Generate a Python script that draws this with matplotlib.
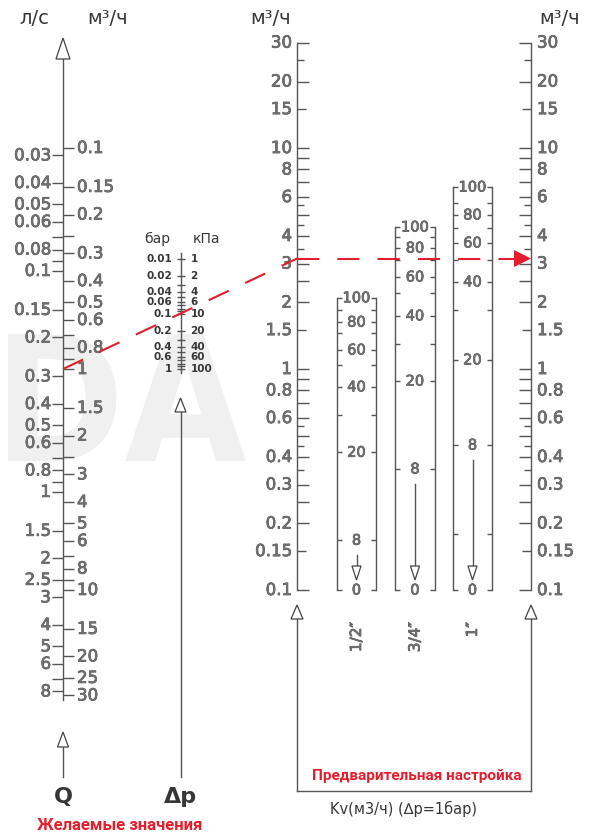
import matplotlib
matplotlib.use('Agg')
import matplotlib.pyplot as plt
import numpy as np
from matplotlib.patches import Polygon, PathPatch
from matplotlib.textpath import TextPath
from matplotlib.font_manager import FontProperties
from matplotlib.transforms import Affine2D
import matplotlib.patheffects as pe

plt.rcParams['lines.scale_dashes'] = False
plt.rcParams['font.family'] = ['DejaVu Sans']

W, H = 598, 836

# ---------------- data ----------------
Q_M3H_LABELS = [0.1, 0.15, 0.2, 0.3, 0.4, 0.5, 0.6, 0.8, 1, 1.5, 2, 3, 4, 5, 6, 8, 10, 15, 20, 25, 30]
Q_M3H_MINOR = [0.25, 0.7, 0.9, 2.5, 7, 9]
Q_LS_LABELS = [0.03, 0.04, 0.05, 0.06, 0.08, 0.1, 0.15, 0.2, 0.3, 0.4, 0.5, 0.6, 0.8, 1, 1.5, 2, 2.5, 3, 4, 5, 6, 8]
Q_LS_MINOR = [0.07, 0.09, 0.7, 0.9, 7]
LS_TO_M3H = 3.6

DP_TICKS = [0.01, 0.02, 0.03, 0.04, 0.05, 0.06, 0.07, 0.08, 0.09,
            0.1, 0.2, 0.3, 0.4, 0.5, 0.6, 0.7, 0.8, 0.9, 1]
DP_BAR_LABELS = [0.01, 0.02, 0.04, 0.06, 0.1, 0.2, 0.4, 0.6, 1]
DP_KPA_LABELS = ['1', '2', '4', '6', '10', '20', '40', '60', '100']

KV_LABELS = [0.1, 0.15, 0.2, 0.3, 0.4, 0.6, 0.8, 1, 1.5, 2, 3, 4, 6, 8, 10, 15, 20, 30]
KV_LONG = [0.1, 0.2, 0.25, 0.3, 0.4, 0.5, 0.6, 0.7, 0.8, 0.9, 1, 2, 2.5, 3, 4, 5, 6, 7, 8, 9, 10, 20, 30]
KV_MID = [0.15, 1.5, 15]
KV_SHORT = [0.35, 0.45, 0.55, 3.5, 4.5, 5.5, 25]

SIZES = ['1/2\u2033', '3/4\u2033', '1\u2033']
PRESET_SETTINGS = [
    [100, 90, 80, 70, 60, 50, 40, 30, 20, 8, 0],
    [100, 90, 80, 70, 60, 50, 40, 30, 20, 8, 0],
    [100, 90, 80, 70, 60, 50, 40, 30, 20, 8, 4, 0],
]
PRESET_KV = [
    [2.10, 1.85, 1.63, 1.455, 1.22, 1.04, 0.83, 0.62, 0.42, 0.168, 0.1],
    [4.39, 3.96, 3.53, 3.11, 2.61, 2.21, 1.74, 1.30, 0.882, 0.353, 0.1],
    [6.66, 5.64, 4.98, 4.35, 3.72, 3.11, 2.48, 1.85, 1.10, 0.453, 0.179, 0.1],
]
PRESET_LABELED = [100, 80, 60, 40, 20, 8, 0]

EXAMPLE_Q = 1.0      # m3/h
EXAMPLE_DP = 0.1     # bar
EXAMPLE_KV = EXAMPLE_Q / np.sqrt(EXAMPLE_DP)

# ---------------- styles ----------------
LINE = '#555555'
DARK = '#363636'
RED = '#e31e2d'
LW = 1.0
LBL = dict(color='#707070', path_effects=[pe.withStroke(linewidth=0.5, foreground='#4a4a4a')])

fig = plt.figure(figsize=(W / 100, H / 100), dpi=100)


def fmt(v):
    return '%g' % v


def scale_axes(top_px, bot_px, v_top, v_bot):
    ax = fig.add_axes([0, 1 - bot_px / H, 1, (bot_px - top_px) / H])
    ax.set_yscale('log')
    ax.set_ylim(v_bot, v_top)
    ax.set_xlim(0, W)
    ax.axis('off')
    ax.patch.set_alpha(0)
    return ax


def py(ax, v):
    return H - ax.transData.transform((0, v))[1]


# background watermark
bg = fig.add_axes([0, 0, 1, 1])
bg.set_xlim(0, W)
bg.set_ylim(H, 0)
bg.axis('off')
tp = TextPath((0, 0), 'DA', size=100, prop=FontProperties(family='DejaVu Sans', weight='bold'))
ext = tp.get_extents()
bx0, bx1, by0, by1 = 8, 246, 334, 461
sx = (bx1 - bx0) / ext.width
sy = (by1 - by0) / ext.height
tr = Affine2D().translate(-ext.x0, -ext.y0).scale(sx, -sy).translate(bx0, by1)
bg.add_patch(PathPatch(tr.transform_path(tp), facecolor='#f0f0f0', edgecolor='none'))

# scales
ax_q = scale_axes(148, 695.4, 0.1, 30)
ax_dp = scale_axes(259, 369, 0.01, 1)
ax_kv = scale_axes(42.6, 590, 30, 0.1)

ov = fig.add_axes([0, 0, 1, 1])
ov.set_xlim(0, W)
ov.set_ylim(H, 0)
ov.axis('off')
ov.patch.set_alpha(0)


def hollow_arrow(x, tip, base, hw, ax=ov):
    ax.add_patch(Polygon([(x, tip), (x - hw, base), (x + hw, base)], closed=True,
                         facecolor='white', edgecolor='#444444', lw=0.9, zorder=5))


# ---- Q scale ----
XQ = 63
ov.plot([XQ, XQ], [59, 700], color=LINE, lw=LW)
hollow_arrow(XQ, 38, 59, 7)
ax_q.hlines(Q_M3H_LABELS + Q_M3H_MINOR, XQ, XQ + 11, colors=LINE, lw=LW, clip_on=False)
ax_q.hlines([v * LS_TO_M3H for v in Q_LS_LABELS + Q_LS_MINOR], XQ - 11, XQ,
            colors=LINE, lw=LW, clip_on=False)
for v in Q_M3H_LABELS:
    ax_q.text(XQ + 14, v, fmt(v), fontsize=12, ha='left', va='center', clip_on=False, **LBL)
for v in Q_LS_LABELS:
    ax_q.text(XQ - 12, v * LS_TO_M3H, fmt(v), fontsize=12, ha='right', va='center',
              clip_on=False, **LBL)
ov.text(34, 18, 'л/с', fontsize=14, color=DARK, ha='center', va='center')
ov.text(108, 18, 'м³/ч', fontsize=14, color=DARK, ha='center', va='center')
ov.plot([XQ, XQ], [747, 777], color=LINE, lw=LW)
hollow_arrow(XQ, 732, 747, 5.5)
ov.text(XQ, 797, 'Q', fontsize=16, fontweight='bold', color=DARK, ha='center', va='center')

# ---- dp scale ----
XD = 180.5
ov.plot([XD, XD], [253, 373], color=LINE, lw=LW)
ax_dp.hlines(DP_TICKS, XD - 4, XD + 4, colors=LINE, lw=LW, clip_on=False)
for v, k in zip(DP_BAR_LABELS, DP_KPA_LABELS):
    ax_dp.text(XD - 8, v, fmt(v), fontsize=7.5, fontweight='bold', color=DARK,
               ha='right', va='center', clip_on=False)
    ax_dp.text(XD + 10, v, k, fontsize=7.5, fontweight='bold', color=DARK,
               ha='left', va='center', clip_on=False)
ov.text(157, 239, 'бар', fontsize=10, color=DARK, ha='center', va='center')
ov.text(206, 239, 'кПа', fontsize=10, color=DARK, ha='center', va='center')
ov.plot([XD, XD], [412, 777], color=LINE, lw=LW)
hollow_arrow(XD, 398, 412, 5.5)
ov.text(XD, 797, 'Δp', fontsize=16, fontweight='bold', color=DARK, ha='center', va='center')
ov.text(120, 825, 'Желаемые значения', fontsize=12, fontweight='bold', color=RED,
        family='Roboto', ha='center', va='center')

# ---- Kv scales ----
XK1, XK2 = 297, 531
for xk, sgn in ((XK1, 1), (XK2, -1)):
    ax_kv.plot([xk, xk], [0.1, 30], color=LINE, lw=LW, clip_on=False)
    ax_kv.hlines(KV_LONG, xk, xk + sgn * 12, colors=LINE, lw=LW, clip_on=False)
    ax_kv.hlines(KV_MID, xk, xk + sgn * 9, colors=LINE, lw=LW, clip_on=False)
    ax_kv.hlines(KV_SHORT, xk, xk + sgn * 7, colors=LINE, lw=LW, clip_on=False)
for v in KV_LABELS:
    ax_kv.text(XK1 - 5, v, fmt(v), fontsize=12, ha='right', va='center', clip_on=False, **LBL)
    ax_kv.text(XK2 + 6, v, fmt(v), fontsize=12, ha='left', va='center', clip_on=False, **LBL)
ov.text(271, 18, 'м³/ч', fontsize=14, color=DARK, ha='center', va='center')
ov.text(560, 18, 'м³/ч', fontsize=14, color=DARK, ha='center', va='center')

# bottom bracket
for xk in (XK1, XK2):
    ov.plot([xk, xk], [619, 791], color=LINE, lw=LW)
    hollow_arrow(xk, 605, 619, 6)
ov.plot([XK1, XK2], [791, 791], color=LINE, lw=LW)
ov.text(417, 776, 'Предварительная настройка', fontsize=11, fontweight='bold', color=RED,
        family='Roboto', ha='center', va='center')
ov.text(404, 809, 'Kv(м3/ч) (∆p=1бар)', fontsize=10.5, color=DARK, ha='center', va='center')

# ---- presetting strips ----
STRIP_X = [(337, 376), (395, 435), (453, 492)]
for (xl, xr), name, sets, kvs in zip(STRIP_X, SIZES, PRESET_SETTINGS, PRESET_KV):
    xc = (xl + xr) / 2
    top_kv = kvs[0]
    ax_kv.plot([xl, xl], [0.1, top_kv], color=LINE, lw=LW, clip_on=False)
    ax_kv.plot([xr, xr], [0.1, top_kv], color=LINE, lw=LW, clip_on=False)
    ax_kv.hlines(kvs, xl, xl + 5, colors=LINE, lw=LW, clip_on=False)
    ax_kv.hlines(kvs, xr - 5, xr, colors=LINE, lw=LW, clip_on=False)
    for s, k in zip(sets, kvs):
        if s in PRESET_LABELED:
            ax_kv.text(xc, k, str(s), fontsize=10.5, ha='center', va='center',
                       clip_on=False, **LBL)
    y8 = py(ax_kv, kvs[sets.index(8)])
    ov.plot([xc, xc], [y8 + 15, 566], color=LINE, lw=LW)
    hollow_arrow(xc, 580, 566, 4.5)
    ov.text(xc, 622, name, fontsize=11, rotation=90, rotation_mode='anchor',
            ha='right', va='center', **LBL)

# ---- example (red) ----
yq = py(ax_q, EXAMPLE_Q)
yk = py(ax_kv, EXAMPLE_KV)
ov.plot([XQ, XK1], [yq, yk], color=RED, lw=1.5, dashes=(16, 13), zorder=6)
ov.plot([XK1, 516], [yk, yk], color=RED, lw=1.5, dashes=(16, 13), zorder=6)
ov.add_patch(Polygon([(XK2, yk), (514, yk - 8.5), (514, yk + 8.5)], closed=True,
                     facecolor=RED, edgecolor='none', zorder=7))

fig.savefig('out.png', dpi=100)
